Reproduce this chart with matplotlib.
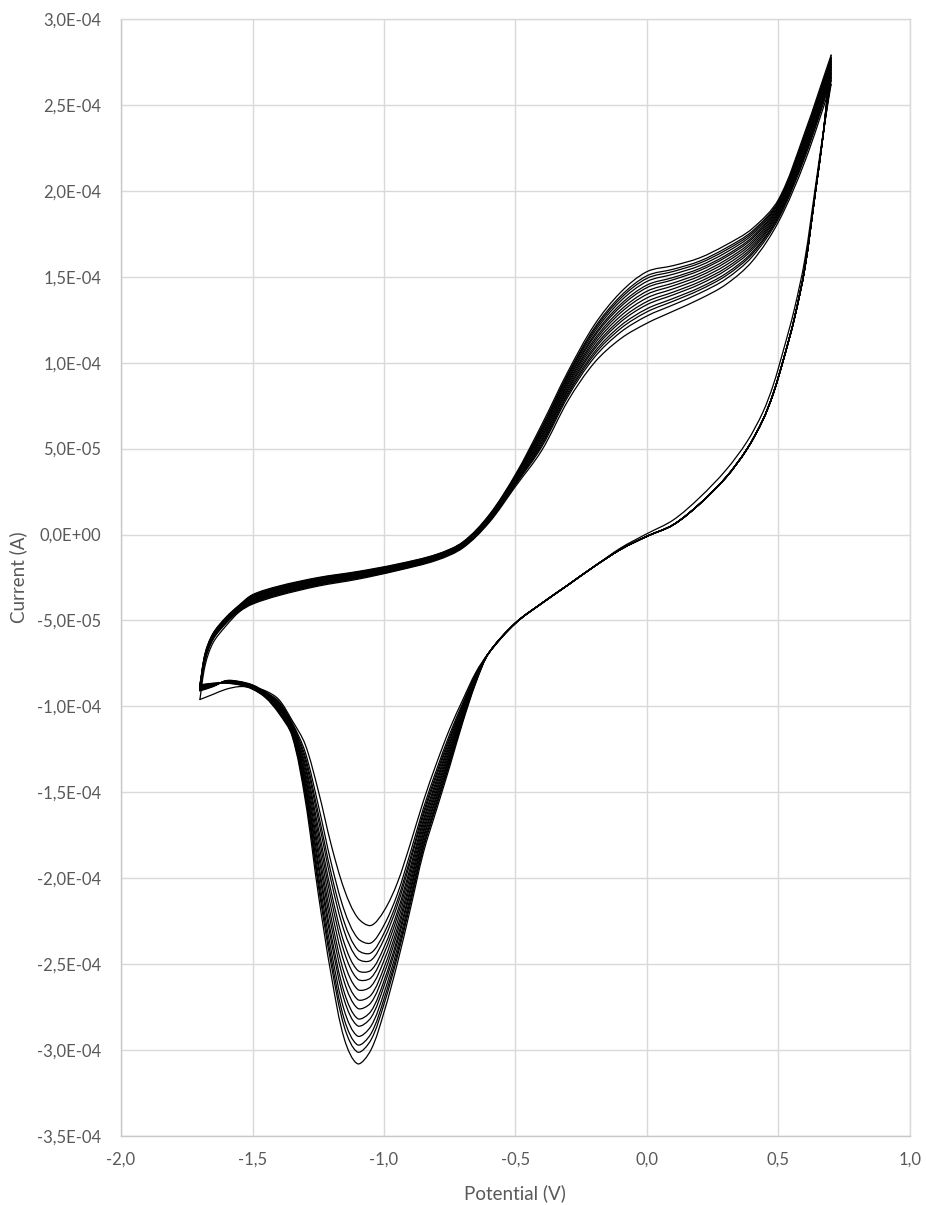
import numpy as np
import matplotlib
matplotlib.use("Agg")
import matplotlib.pyplot as plt
from matplotlib.path import Path
from matplotlib.patches import PathPatch
from matplotlib.ticker import FuncFormatter, MultipleLocator

plt.rcParams['font.family'] = ['Lato', 'DejaVu Sans']

# currents are in units of 1e-4 A, potentials in V
# 15 cycles; each inner list = one potential, one value per cycle (cycle 1 ... cycle 15)

# anodic sweep, -1.70 V -> 0.70 V
AN_E = [-1.70, -1.68, -1.65, -1.60, -1.55, -1.50, -1.40, -1.25, -1.10, -0.95, -0.80, -0.70, -0.60,
        -0.50, -0.40, -0.30, -0.20, -0.10, 0.00, 0.10, 0.20, 0.30, 0.40, 0.50, 0.60, 0.70]
AN_I = [
    [-0.960, -0.910, -0.907, -0.905, -0.902, -0.899, -0.897, -0.894, -0.891, -0.888, -0.886, -0.883, -0.880, -0.878, -0.875],
    [-0.760, -0.730, -0.727, -0.724, -0.721, -0.718, -0.715, -0.712, -0.709, -0.706, -0.703, -0.700, -0.697, -0.694, -0.690],
    [-0.630, -0.610, -0.607, -0.605, -0.602, -0.599, -0.597, -0.594, -0.591, -0.588, -0.586, -0.583, -0.580, -0.578, -0.575],
    [-0.530, -0.515, -0.512, -0.510, -0.507, -0.504, -0.502, -0.499, -0.496, -0.493, -0.491, -0.488, -0.485, -0.483, -0.480],
    [-0.450, -0.445, -0.442, -0.440, -0.437, -0.434, -0.432, -0.429, -0.426, -0.423, -0.421, -0.418, -0.415, -0.413, -0.410],
    [-0.405, -0.400, -0.396, -0.392, -0.388, -0.385, -0.381, -0.377, -0.373, -0.369, -0.365, -0.362, -0.358, -0.354, -0.350],
    [-0.355, -0.350, -0.346, -0.342, -0.338, -0.335, -0.331, -0.327, -0.323, -0.319, -0.315, -0.312, -0.308, -0.304, -0.300],
    [-0.300, -0.295, -0.292, -0.288, -0.285, -0.281, -0.278, -0.274, -0.271, -0.267, -0.264, -0.260, -0.257, -0.253, -0.250],
    [-0.260, -0.255, -0.252, -0.249, -0.246, -0.243, -0.240, -0.237, -0.233, -0.230, -0.227, -0.224, -0.221, -0.218, -0.215],
    [-0.210, -0.207, -0.204, -0.202, -0.199, -0.196, -0.194, -0.191, -0.188, -0.185, -0.183, -0.180, -0.177, -0.175, -0.172],
    [-0.150, -0.145, -0.143, -0.140, -0.138, -0.136, -0.133, -0.131, -0.129, -0.126, -0.124, -0.122, -0.119, -0.117, -0.115],
    [-0.078, -0.073, -0.071, -0.068, -0.066, -0.064, -0.061, -0.059, -0.057, -0.054, -0.052, -0.050, -0.047, -0.045, -0.043],
    [0.070, 0.076, 0.080, 0.083, 0.086, 0.089, 0.092, 0.095, 0.098, 0.101, 0.103, 0.106, 0.109, 0.111, 0.115],
    [0.280, 0.290, 0.295, 0.300, 0.305, 0.309, 0.314, 0.319, 0.323, 0.328, 0.332, 0.337, 0.341, 0.344, 0.350],
    [0.490, 0.511, 0.522, 0.531, 0.542, 0.551, 0.562, 0.572, 0.581, 0.592, 0.599, 0.609, 0.618, 0.626, 0.640],
    [0.780, 0.804, 0.817, 0.828, 0.841, 0.851, 0.863, 0.875, 0.885, 0.897, 0.906, 0.918, 0.928, 0.936, 0.950],
    [1.000, 1.031, 1.048, 1.062, 1.079, 1.092, 1.108, 1.123, 1.136, 1.152, 1.163, 1.178, 1.191, 1.202, 1.220],
    [1.140, 1.178, 1.199, 1.216, 1.237, 1.253, 1.272, 1.291, 1.307, 1.326, 1.340, 1.359, 1.375, 1.388, 1.410],
    [1.230, 1.272, 1.296, 1.314, 1.338, 1.356, 1.377, 1.398, 1.416, 1.437, 1.452, 1.473, 1.491, 1.506, 1.530],
    [1.300, 1.337, 1.358, 1.374, 1.395, 1.411, 1.430, 1.448, 1.464, 1.483, 1.496, 1.515, 1.531, 1.544, 1.565],
    [1.370, 1.404, 1.423, 1.437, 1.456, 1.471, 1.488, 1.504, 1.519, 1.536, 1.548, 1.564, 1.579, 1.591, 1.610],
    [1.455, 1.487, 1.506, 1.519, 1.538, 1.552, 1.568, 1.584, 1.598, 1.614, 1.625, 1.641, 1.655, 1.667, 1.685],
    [1.590, 1.617, 1.632, 1.643, 1.658, 1.670, 1.683, 1.696, 1.708, 1.721, 1.731, 1.744, 1.755, 1.765, 1.780],
    [1.820, 1.838, 1.849, 1.856, 1.867, 1.875, 1.884, 1.893, 1.901, 1.910, 1.916, 1.925, 1.933, 1.940, 1.950],
    [2.170, 2.194, 2.207, 2.218, 2.231, 2.241, 2.253, 2.265, 2.275, 2.287, 2.296, 2.308, 2.318, 2.326, 2.340],
    [2.620, 2.644, 2.657, 2.668, 2.681, 2.691, 2.703, 2.715, 2.725, 2.737, 2.746, 2.758, 2.768, 2.776, 2.790],
]

# return sweep from the 0.70 V vertex down to -0.60 V (all cycles nearly on top of each other)
RET_E = [0.67, 0.64, 0.60, 0.56, 0.52, 0.48, 0.44, 0.38, 0.30, 0.20, 0.10, 0.00,
         -0.10, -0.20, -0.30, -0.40, -0.50, -0.60]
RET_I_FIRST = [2.34, 2.02, 1.60, 1.31, 1.08, 0.87, 0.71, 0.54, 0.375, 0.215, 0.085, 0.005,
               -0.078, -0.185, -0.293, -0.400, -0.515, -0.686]
RET_I_REST = [2.33, 1.99, 1.55, 1.255, 1.025, 0.82, 0.665, 0.497, 0.332, 0.178, 0.057, -0.010,
              -0.086, -0.185, -0.293, -0.400, -0.515, -0.686]

# cathodic peak region, -0.65 V -> -1.70 V
CAT_E = [-0.65, -0.70, -0.75, -0.80, -0.85, -0.90, -0.95, -1.00, -1.05, -1.10, -1.15, -1.20,
         -1.25, -1.30, -1.35, -1.40, -1.45, -1.50, -1.55, -1.60, -1.65, -1.70]
CAT_I = [
    [-0.800, -0.808, -0.813, -0.817, -0.822, -0.825, -0.829, -0.834, -0.837, -0.841, -0.844, -0.849, -0.852, -0.855, -0.860],
    [-0.960, -0.978, -0.989, -0.996, -1.007, -1.015, -1.024, -1.033, -1.041, -1.050, -1.056, -1.065, -1.073, -1.080, -1.090],
    [-1.130, -1.161, -1.178, -1.192, -1.209, -1.222, -1.238, -1.253, -1.266, -1.282, -1.293, -1.308, -1.321, -1.332, -1.350],
    [-1.330, -1.368, -1.389, -1.406, -1.427, -1.443, -1.462, -1.481, -1.497, -1.516, -1.530, -1.549, -1.565, -1.578, -1.600],
    [-1.550, -1.592, -1.616, -1.634, -1.658, -1.676, -1.697, -1.718, -1.736, -1.757, -1.772, -1.793, -1.811, -1.826, -1.850],
    [-1.800, -1.853, -1.884, -1.906, -1.937, -1.960, -1.986, -2.013, -2.036, -2.062, -2.081, -2.108, -2.131, -2.150, -2.180],
    [-2.030, -2.096, -2.133, -2.162, -2.199, -2.227, -2.260, -2.293, -2.321, -2.354, -2.378, -2.411, -2.439, -2.462, -2.500],
    [-2.190, -2.273, -2.320, -2.355, -2.402, -2.438, -2.479, -2.520, -2.556, -2.597, -2.627, -2.668, -2.703, -2.733, -2.780],
    [-2.275, -2.377, -2.435, -2.478, -2.536, -2.580, -2.630, -2.681, -2.725, -2.775, -2.812, -2.862, -2.906, -2.942, -3.000],
    [-2.230, -2.349, -2.417, -2.468, -2.536, -2.587, -2.647, -2.706, -2.757, -2.817, -2.859, -2.919, -2.970, -3.012, -3.080],
    [-2.070, -2.192, -2.261, -2.314, -2.383, -2.435, -2.496, -2.557, -2.609, -2.670, -2.714, -2.775, -2.827, -2.870, -2.940],
    [-1.810, -1.916, -1.977, -2.023, -2.084, -2.129, -2.182, -2.236, -2.281, -2.334, -2.372, -2.426, -2.471, -2.509, -2.570],
    [-1.490, -1.574, -1.622, -1.658, -1.706, -1.742, -1.784, -1.826, -1.862, -1.904, -1.934, -1.976, -2.012, -2.042, -2.090],
    [-1.220, -1.265, -1.290, -1.310, -1.335, -1.354, -1.377, -1.399, -1.418, -1.441, -1.457, -1.479, -1.498, -1.514, -1.540],
    [-1.080, -1.093, -1.100, -1.105, -1.112, -1.118, -1.124, -1.130, -1.136, -1.142, -1.147, -1.153, -1.158, -1.163, -1.170],
    [-0.960, -0.971, -0.978, -0.982, -0.989, -0.994, -0.999, -1.005, -1.010, -1.015, -1.019, -1.025, -1.030, -1.034, -1.040],
    [-0.910, -0.916, -0.919, -0.921, -0.924, -0.927, -0.930, -0.932, -0.935, -0.938, -0.940, -0.942, -0.945, -0.947, -0.950],
    [-0.890, -0.875, -0.877, -0.879, -0.881, -0.883, -0.885, -0.887, -0.889, -0.890, -0.892, -0.894, -0.896, -0.898, -0.900],
    [-0.885, -0.855, -0.857, -0.858, -0.860, -0.861, -0.863, -0.864, -0.866, -0.867, -0.869, -0.870, -0.872, -0.873, -0.875],
    [-0.900, -0.850, -0.851, -0.852, -0.853, -0.855, -0.856, -0.857, -0.858, -0.859, -0.860, -0.861, -0.862, -0.864, -0.865],
    [-0.930, -0.885, -0.883, -0.882, -0.880, -0.879, -0.877, -0.876, -0.874, -0.873, -0.871, -0.870, -0.868, -0.867, -0.865],
    [-0.960, -0.910, -0.907, -0.905, -0.902, -0.899, -0.897, -0.894, -0.891, -0.888, -0.886, -0.883, -0.880, -0.878, -0.875],
]

UNIT = 1e-4
GRID = '#d9d9d9'
TEXT = '#595959'


def smooth_patch(x, y, sx=263.0, sy=1.72e6):
    # excel-like smoothed line: cubic bezier through the points
    x = np.asarray(x, float)
    y = np.asarray(y, float)
    d = np.hypot(np.diff(x) * sx, np.diff(y) * sy)
    n = len(x)
    tx = np.empty(n)
    ty = np.empty(n)
    tx[1:-1] = (x[2:] - x[:-2]) / (d[:-1] + d[1:])
    ty[1:-1] = (y[2:] - y[:-2]) / (d[:-1] + d[1:])
    tx[0], ty[0] = (x[1] - x[0]) / d[0], (y[1] - y[0]) / d[0]
    tx[-1], ty[-1] = (x[-1] - x[-2]) / d[-1], (y[-1] - y[-2]) / d[-1]
    verts = [(x[0], y[0])]
    codes = [Path.MOVETO]
    for i in range(n - 1):
        h = d[i] / 3.0
        verts += [(x[i] + tx[i] * h, y[i] + ty[i] * h),
                  (x[i + 1] - tx[i + 1] * h, y[i + 1] - ty[i + 1] * h),
                  (x[i + 1], y[i + 1])]
        codes += [Path.CURVE4] * 3
    return PathPatch(Path(verts, codes), fill=False, edgecolor='black', lw=0.9,
                     joinstyle='round', capstyle='round')


fig = plt.figure(figsize=(9.26, 12.05), dpi=100)
ax = fig.add_axes([121 / 926, 1 - 1136 / 1205, (910 - 121) / 926, (1136 - 19) / 1205])

an = np.array(AN_I).T * UNIT
cat = np.array(CAT_I).T * UNIT
n_cycles = an.shape[0]

for k in range(n_cycles):
    ax.add_patch(smooth_patch(AN_E, an[k]))
    ret = np.array(RET_I_FIRST if k == 0 else RET_I_REST) * UNIT
    e = [AN_E[-1]] + RET_E + CAT_E
    i = np.concatenate([[an[k][-1]], ret, cat[k]])
    ax.add_patch(smooth_patch(e, i))

ax.set_xlim(-2.0, 1.0)
ax.set_ylim(-3.5e-4, 3.0e-4)
ax.xaxis.set_major_locator(MultipleLocator(0.5))
ax.yaxis.set_major_locator(MultipleLocator(5e-5))
ax.xaxis.set_major_formatter(FuncFormatter(lambda v, p: f"{v:.1f}".replace('.', ',')))
ax.yaxis.set_major_formatter(FuncFormatter(lambda v, p: f"{v:.1E}".replace('.', ',')))
ax.grid(True, color=GRID, lw=1.0)
ax.set_axisbelow(True)
for s in ax.spines.values():
    s.set_color(GRID)
    s.set_linewidth(1.0)
ax.spines['left'].set_color('#c8c8c8')
ax.spines['bottom'].set_color('#c8c8c8')
ax.tick_params(axis='both', length=0, labelsize=12, labelcolor=TEXT)
ax.tick_params(axis='y', pad=14)
ax.tick_params(axis='x', pad=11)

fig.text(18 / 926, 1 - 577 / 1205, 'Current (A)', rotation=90, ha='center', va='center',
         fontsize=13.5, color=TEXT)
fig.text(515 / 926, 1 - 1193 / 1205, 'Potential (V)', ha='center', va='center',
         fontsize=13.5, color=TEXT)

fig.savefig('out.png', dpi=100, facecolor='white')
